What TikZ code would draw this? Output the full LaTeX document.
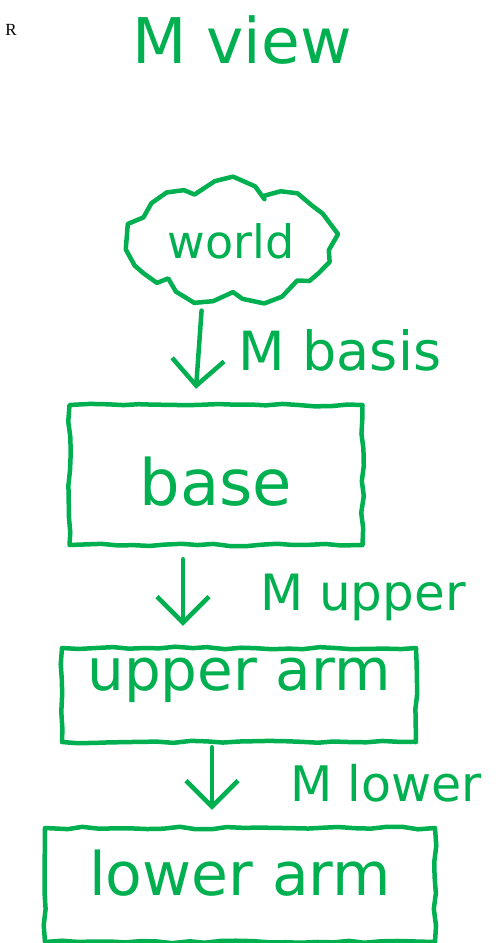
\documentclass[tikz,border=0pt]{standalone}
\usepackage{fontspec}
\setmainfont{DejaVu Sans}
\newfontfamily\refserif{Liberation Serif}
\usetikzlibrary{arrows.meta,positioning,shapes.symbols,decorations.pathmorphing}
\definecolor{pen}{HTML}{00B050}
\newcommand{\fs}[1]{\fontsize{#1}{#1}\selectfont}
\tikzset{
  ink/.style={draw=pen,line width=4.5pt,line join=round,line cap=round},
  part/.style={ink,decorate,decoration={random steps,segment length=16pt,amplitude=1.3pt},
    text=pen,inner sep=0pt,anchor=center},
  blob/.style={part,cloud,cloud puffs=9,cloud puff arc=110,aspect=1.9},
  arr/.style={ink,-{Straight Barb[length=26pt,width=52pt]}},
  lbl/.style={text=pen,inner sep=0pt,font=\fs{#1}},
  lbl/.default={48},
}
\begin{document}
\begin{tikzpicture}[x=1pt,y=-1pt]
 \pgfmathsetseed{7}
 \useasboundingbox (0,0) rectangle (502,943);
 \node[font=\refserif\fs{17},inner sep=0pt] (tag) at (11,30) {R};
 \node[lbl=63] (view) at (242,40) {M view};
 % frames
 \node[blob,minimum width=200pt,minimum height=106pt,font=\fs{46},text height=32pt,text depth=0pt] (world) at (231,242) {world};
 \node[part,minimum width=293pt,minimum height=140pt,font=\fs{64},text height=60pt,text depth=0pt] (base) at (216,475) {base};
 \node[part,minimum width=354pt,minimum height=94pt,font=\fs{58},text height=20pt,text depth=30pt] (upper) at (239,695) {upper arm};
 \node[part,minimum width=390pt,minimum height=114pt,font=\fs{60},text height=20pt,text depth=0pt] (lower) at (240,885) {lower arm};
 % transforms
 \draw[arr,shorten <=20pt,shorten >=14pt] ([xshift=-28pt]world.south) -- ([xshift=-21pt]base.north);
 \node[lbl=54] (mbasis) at (340,350) {M basis};
 \draw[arr,shorten <=12pt,shorten >=20pt] ([xshift=-33pt]base.south) -- ([xshift=-56pt]upper.north);
 \node[lbl=50] (mupper) at (363,597) {M upper};
 \draw[arr,shorten <=3pt,shorten >=16pt] ([xshift=-27pt]upper.south) -- ([xshift=-28pt]lower.north);
 \node[lbl=49] (mlower) at (386,783) {M lower};
\end{tikzpicture}
\end{document}
